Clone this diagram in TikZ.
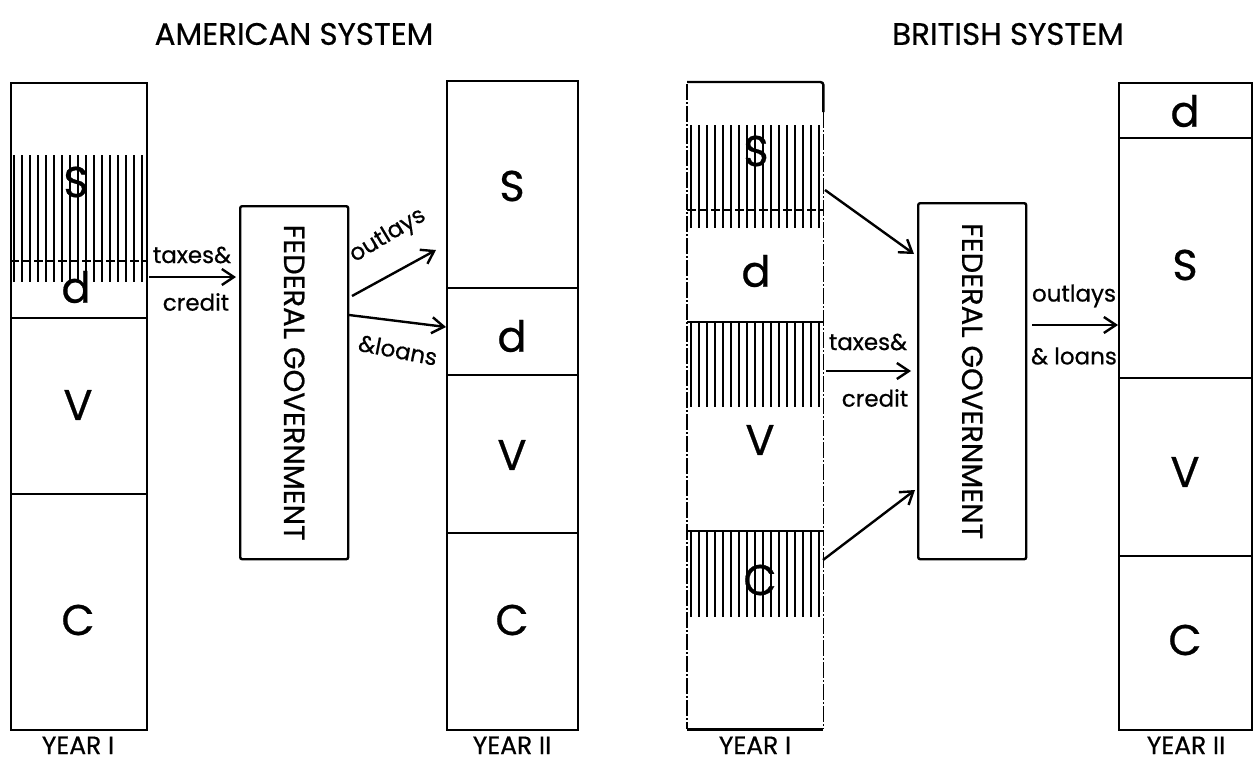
\documentclass[tikz,border=0pt]{standalone}
\usepackage{fontspec}
\setmainfont{Poppins}[FakeBold=0.6]
\usetikzlibrary{arrows.meta}
\begin{document}
\begin{tikzpicture}[x=1pt,y=-1pt,
 box/.style={draw,line width=2.4pt},
 col/.style={draw,line width=2.4pt,inner sep=0pt,anchor=north west},
 big/.style={font=\fontsize{43}{43}\selectfont,inner sep=0pt},
 lbl/.style={font=\fontsize{23}{25}\selectfont,inner sep=1pt},
 ttl/.style={font=\fontsize{31}{33}\selectfont,inner sep=0pt},
 yr/.style={font=\fontsize{25}{27}\selectfont,inner sep=0pt,anchor=base},
 conn/.style={line width=2.4pt,-{Straight Barb[length=12pt,width=16pt,line width=2.4pt]}},
 hatch/.style={line width=1.8pt},
 gov/.style={draw,line width=2.4pt,rounded corners=2pt,inner sep=0pt,anchor=north west},
 govtext/.style={rotate=-90,font=\fontsize{29}{31}\selectfont,inner sep=0pt},
 side/.style={line width=1.6pt,dash pattern=on 16pt off 2pt on 2pt off 2pt}
]
\useasboundingbox (0,0) rectangle (1253,763);

% ---------- titles ----------
\node[ttl] (tA) at (294,34) {AMERICAN SYSTEM};
\node[ttl] (tB) at (1008,34) {BRITISH SYSTEM};

% ---------- American year I ----------
\foreach \x in {14,22,...,142} \draw[hatch] (\x,155) -- (\x,282);
\node[col,minimum width=136pt,minimum height=647pt] (ay1) at (10,82) {};
\draw[line width=1.6pt,dash pattern=on 9pt off 3pt] (ay1.west |- 0,261) -- (ay1.east |- 0,261);
\draw[box] (ay1.west |- 0,318) -- (ay1.east |- 0,318);
\draw[box] (ay1.west |- 0,494) -- (ay1.east |- 0,494);
\node[big] (ay1S) at (76,182) {S};
\node[big] (ay1d) at (76,287) {d};
\node[big] (ay1V) at (78,405) {V};
\node[big] (ay1C) at (78,620) {C};
\node[yr] (ay1L) at (78,754) {YEAR I};

% ---------- American federal government ----------
\node[gov,minimum width=108pt,minimum height=353pt] (ag) at (239,205) {};
\node[govtext] (agT) at (ag.center) {FEDERAL GOVERNMENT};

% ---------- American year II ----------
\node[col,minimum width=131pt,minimum height=649pt] (ay2) at (446,80) {};
\draw[box] (ay2.west |- 0,288) -- (ay2.east |- 0,288);
\draw[box] (ay2.west |- 0,375) -- (ay2.east |- 0,375);
\draw[box] (ay2.west |- 0,533) -- (ay2.east |- 0,533);
\node[big] (ay2S) at (512,186) {S};
\node[big] (ay2d) at (512,336) {d};
\node[big] (ay2V) at (512,455) {V};
\node[big] (ay2C) at (512,620) {C};
\node[yr] (ay2L) at (512,754) {YEAR II};

% ---------- American connectors ----------
\coordinate (at1) at (149,277);
\draw[conn] (at1) -- ([xshift=-3pt]ag.west |- at1);
\node[lbl] (atx) at (192,255) {taxes\&};
\node[lbl] (acr) at (196,302) {credit};
\coordinate (ao1) at (352,296);
\coordinate (ao2) at (436,250);
\draw[conn] (ao1) -- (ao2);
\node[lbl,rotate=31] (aol) at (388,236) {outlays};
\coordinate (al1) at (349,315);
\draw[conn] (al1) -- (ay2.west |- 0,327);
\node[lbl,rotate=-11] (all) at (398,350) {\&loans};

% ---------- British year I ----------
\foreach \x in {691,699,...,819} \draw[hatch] (\x,125) -- (\x,228);
\foreach \x in {691,699,...,819} \draw[hatch] (\x,322) -- (\x,407);
\foreach \x in {691,699,...,819} \draw[hatch] (\x,531) -- (\x,617);
\node[inner sep=0pt,anchor=north west,minimum width=136pt,minimum height=647pt] (by1) at (687,82) {};
\draw[box,rounded corners=3pt] (by1.north west) -- (by1.north east) -- ([yshift=-30pt]by1.north east);
\draw[side] ([yshift=-2pt]by1.north west) -- (by1.south west);
\draw[side] ([yshift=-30pt]by1.north east) -- (by1.south east);
\draw[box] (by1.south west) -- (by1.south east);
\draw[line width=1.6pt,dash pattern=on 9pt off 3pt] (by1.west |- 0,210) -- (by1.east |- 0,210);
\draw[box] (by1.west |- 0,322) -- (by1.east |- 0,322);
\draw[box] (by1.west |- 0,531) -- (by1.east |- 0,531);
\node[big] (by1S) at (756,151) {S};
\node[big] (by1d) at (756,271) {d};
\node[big] (by1V) at (760,440) {V};
\node[big] (by1C) at (760,580) {C};
\node[yr] (by1L) at (755,754) {YEAR I};

% ---------- British federal government ----------
\node[gov,minimum width=108pt,minimum height=356pt] (bg) at (917,202) {};
\node[govtext] (bgT) at (bg.center) {FEDERAL GOVERNMENT};

% ---------- British year II ----------
\node[col,minimum width=133pt,minimum height=647pt] (by2) at (1118,82) {};
\draw[box] (by2.west |- 0,138) -- (by2.east |- 0,138);
\draw[box] (by2.west |- 0,378) -- (by2.east |- 0,378);
\draw[box] (by2.west |- 0,556) -- (by2.east |- 0,556);
\node[big] (by2d) at (1185,111) {d};
\node[big] (by2S) at (1185,265) {S};
\node[big] (by2V) at (1185,472) {V};
\node[big] (by2C) at (1185,640) {C};
\node[yr] (by2L) at (1186,754) {YEAR II};

% ---------- British connectors ----------
\coordinate (bs1) at (825,190);
\draw[conn] (bs1) -- ([xshift=-3pt]bg.west |- 0,254);
\coordinate (bt1) at (826,371);
\draw[conn] (bt1) -- ([xshift=-6pt]bg.west |- bt1);
\node[lbl] (btx) at (868,342) {taxes\&};
\node[lbl] (bcr) at (875,398) {credit};
\coordinate (bc1) at (823,560);
\draw[conn] (bc1) -- ([xshift=-2pt]bg.west |- 0,490);
\coordinate (bo1) at (1032,325);
\draw[conn] (bo1) -- (by2.west |- bo1);
\node[lbl] (bol) at (1074,296) {outlays};
\node[lbl] (bll) at (1074,356) {\& loans};
\end{tikzpicture}
\end{document}
